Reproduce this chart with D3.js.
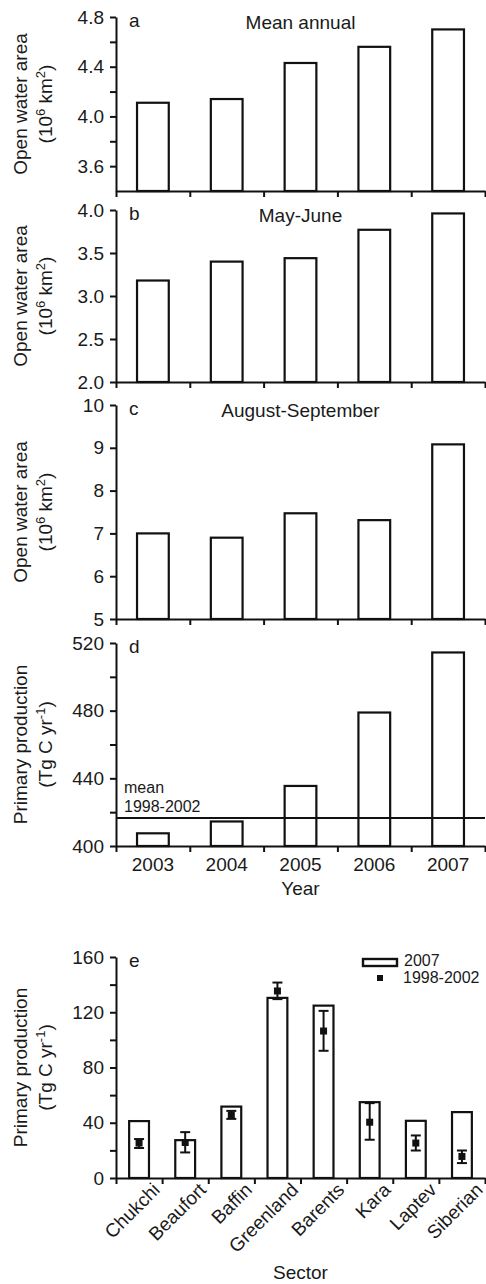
<!DOCTYPE html>
<html>
<head>
<meta charset="utf-8">
<script src="https://cdn.jsdelivr.net/npm/d3@7"></script>
<style>
  body { margin: 0; background: #fff; }
  svg text { font-family: "Liberation Sans", Arial, sans-serif; fill: #1a1a1a; }
  .axis path, .axis line { stroke: #111; stroke-width: 2; }
</style>
</head>
<body>
<div id="chart"></div>
<script>
// panels a-d: yearly values
const years = ["2003", "2004", "2005", "2006", "2007"];
const meanAnnual = [4.11, 4.14, 4.43, 4.56, 4.70];
const mayJune = [3.18, 3.40, 3.44, 3.77, 3.96];
const augSep = [7.00, 6.90, 7.47, 7.31, 9.08];
const primaryProd = [407.5, 414.5, 435.5, 478.9, 514.4];
const ppMean9802 = 416.5;

// panel e: by sector
const sectors = ["Chukchi", "Beaufort", "Baffin", "Greenland", "Barents", "Kara", "Laptev", "Siberian"];
const pp2007 = [41.2, 27.4, 51.7, 130.4, 124.8, 54.9, 41.4, 47.7];
const pp9802 = [25.3, 25.7, 45.7, 135.4, 106.4, 40.4, 25.3, 15.6];
const pp9802Lo = [21.7, 18.5, 42.8, 129.5, 92.1, 27.7, 19.9, 10.8];
const pp9802Hi = [28.2, 33.2, 48.6, 141.5, 121.0, 54.2, 30.8, 19.9];

const width = 486, height = 1284;
const x0 = 116, x1 = 485;

const svg = d3.select("#chart").append("svg")
    .attr("width", width)
    .attr("height", height);

// text with superscripts: parts = [[text, isSup], ...]
function richText(sel, parts) {
    let up = false;
    parts.forEach(([s, sup]) => {
        const t = sel.append("tspan").text(s);
        if (sup && !up) { t.attr("dy", -7).style("font-size", "13px"); up = true; }
        else if (sup) { t.style("font-size", "13px"); }
        else if (up) { t.attr("dy", 7); up = false; }
    });
}

function yLabel(top, bottom, line1, line2) {
    const g = svg.append("g")
        .attr("transform", `translate(0,${(top + bottom) / 2}) rotate(-90)`);
    g.append("text")
        .attr("x", 0).attr("y", 27)
        .attr("text-anchor", "middle")
        .style("font-size", "19px")
        .text(line1);
    const t2 = g.append("text")
        .attr("x", 0).attr("y", 52)
        .attr("text-anchor", "middle")
        .style("font-size", "19px");
    richText(t2, line2);
}

function drawPanel(p) {
    const y = d3.scaleLinear().domain(p.domain).range([p.bottom, p.top]);
    const cats = p.cats;
    const x = d3.scaleBand().domain(cats).range([x0, x1]).padding(0);
    const xb = d3.scaleLinear().domain([0, cats.length]).range([x0, x1]);

    // y axis: major + minor
    svg.append("g").attr("class", "axis")
        .attr("transform", `translate(${x0},0)`)
        .call(d3.axisLeft(y).tickValues(p.minor).tickSize(6).tickFormat("").tickSizeOuter(0))
        .call(g => g.select(".domain").remove());
    svg.append("g").attr("class", "axis")
        .attr("transform", `translate(${x0},0)`)
        .call(d3.axisLeft(y).tickValues(p.major).tickSize(6).tickPadding(6)
            .tickFormat(p.fmt).tickSizeOuter(0))
        .call(g => g.selectAll("text").style("font-size", "19px").attr("fill", "#1a1a1a"));

    // bars
    const bw = x.bandwidth() * 0.43;
    svg.append("g").selectAll("rect")
        .data(p.values)
        .join("rect")
        .attr("x", (d, i) => x(cats[i]) + (x.bandwidth() - bw) / 2)
        .attr("y", d => y(d))
        .attr("width", bw)
        .attr("height", d => p.bottom - y(d))
        .attr("fill", "#fff")
        .attr("stroke", "#111")
        .attr("stroke-width", 2.2);

    // x axis with boundary ticks
    svg.append("g").attr("class", "axis")
        .attr("transform", `translate(0,${p.bottom})`)
        .call(d3.axisBottom(xb).tickValues(d3.range(cats.length + 1)).tickSize(6)
            .tickFormat("").tickSizeOuter(0));

    // panel letter and title
    svg.append("text")
        .attr("x", x0 + 13).attr("y", p.top + 10)
        .style("font-size", "19px")
        .text(p.letter);
    if (p.title) {
        svg.append("text")
            .attr("x", (x0 + x1) / 2).attr("y", p.top + 12)
            .attr("text-anchor", "middle")
            .style("font-size", "19px")
            .text(p.title);
    }
    yLabel(p.top, p.bottom, p.ylab1, p.ylab2);
    return { x, y };
}

const areaUnit = [["(10", false], ["6", true], [" km", false], ["2", true], [")", false]];
const ppUnit = [["(Tg C yr", false], ["-1", true], [")", false]];

drawPanel({
    top: 17, bottom: 191, domain: [3.4, 4.8],
    major: [3.6, 4.0, 4.4, 4.8], minor: [3.8, 4.2, 4.6], fmt: d3.format(".1f"),
    cats: years, values: meanAnnual, letter: "a", title: "Mean annual",
    ylab1: "Open water area", ylab2: areaUnit
});

drawPanel({
    top: 210, bottom: 382, domain: [2.0, 4.0],
    major: [2.0, 2.5, 3.0, 3.5, 4.0], minor: [], fmt: d3.format(".1f"),
    cats: years, values: mayJune, letter: "b", title: "May-June",
    ylab1: "Open water area", ylab2: areaUnit
});

drawPanel({
    top: 405, bottom: 619, domain: [5, 10],
    major: [5, 6, 7, 8, 9, 10], minor: [], fmt: d3.format("d"),
    cats: years, values: augSep, letter: "c", title: "August-September",
    ylab1: "Open water area", ylab2: areaUnit
});

const pd = drawPanel({
    top: 643, bottom: 846, domain: [400, 520],
    major: [400, 440, 480, 520], minor: [420, 460, 500], fmt: d3.format("d"),
    cats: years, values: primaryProd, letter: "d", title: null,
    ylab1: "Primary production", ylab2: ppUnit
});

// year labels
svg.append("g")
    .attr("transform", "translate(0,846)")
    .call(d3.axisBottom(pd.x).tickSize(0).tickPadding(12))
    .call(g => g.select(".domain").remove())
    .call(g => g.selectAll("text").style("font-size", "19px").attr("fill", "#1a1a1a"));

svg.append("text")
    .attr("x", (x0 + x1) / 2).attr("y", 895)
    .attr("text-anchor", "middle")
    .style("font-size", "19px")
    .text("Year");

// 1998-2002 mean line
svg.append("line")
    .attr("x1", x0).attr("x2", x1)
    .attr("y1", pd.y(ppMean9802)).attr("y2", pd.y(ppMean9802))
    .attr("stroke", "#111").attr("stroke-width", 2);
svg.append("text")
    .attr("x", 124).attr("y", 793)
    .style("font-size", "16px")
    .text("mean");
svg.append("text")
    .attr("x", 124).attr("y", 812)
    .style("font-size", "16px")
    .text("1998-2002");

// panel e
const pe = drawPanel({
    top: 957, bottom: 1178, domain: [0, 160],
    major: [0, 40, 80, 120, 160], minor: [20, 60, 100, 140], fmt: d3.format("d"),
    cats: sectors, values: pp2007, letter: "e", title: null,
    ylab1: "Primary production", ylab2: ppUnit
});

const cx = s => pe.x(s) + pe.x.bandwidth() / 2;

// error bars for 1998-2002 mean
const err = svg.append("g");
sectors.forEach((s, i) => {
    err.append("line")
        .attr("x1", cx(s)).attr("x2", cx(s))
        .attr("y1", pe.y(pp9802Lo[i])).attr("y2", pe.y(pp9802Hi[i]))
        .attr("stroke", "#111").attr("stroke-width", 2);
    [pp9802Lo[i], pp9802Hi[i]].forEach(v => {
        err.append("line")
            .attr("x1", cx(s) - 5).attr("x2", cx(s) + 5)
            .attr("y1", pe.y(v)).attr("y2", pe.y(v))
            .attr("stroke", "#111").attr("stroke-width", 2);
    });
});
err.selectAll("rect")
    .data(pp9802)
    .join("rect")
    .attr("x", (d, i) => cx(sectors[i]) - 3.5)
    .attr("y", d => pe.y(d) - 3.5)
    .attr("width", 7).attr("height", 7)
    .attr("fill", "#111");

// rotated sector labels
svg.append("g").selectAll("text")
    .data(sectors)
    .join("text")
    .attr("transform", d => `translate(${cx(d) + 22},1191) rotate(-45)`)
    .attr("text-anchor", "end")
    .style("font-size", "19px")
    .text(d => d);

svg.append("text")
    .attr("x", (x0 + x1) / 2).attr("y", 1279)
    .attr("text-anchor", "middle")
    .style("font-size", "19px")
    .text("Sector");

// legend
const lg = svg.append("g");
lg.append("rect")
    .attr("x", 363).attr("y", 959).attr("width", 34).attr("height", 7)
    .attr("fill", "#fff").attr("stroke", "#111").attr("stroke-width", 2.4);
lg.append("text").attr("x", 404).attr("y", 966).style("font-size", "16px").text("2007");
lg.append("rect")
    .attr("x", 377).attr("y", 975).attr("width", 6).attr("height", 6)
    .attr("fill", "#111");
lg.append("text").attr("x", 403).attr("y", 983).style("font-size", "16px").text("1998-2002");
</script>
</body>
</html>
